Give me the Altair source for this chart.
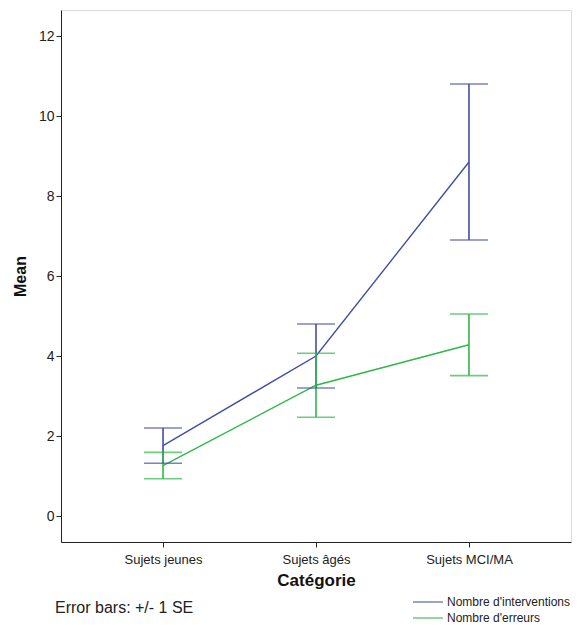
import altair as alt
import pandas as pd

categories = ["Sujets jeunes", "Sujets âgés", "Sujets MCI/MA"]
series = ["Nombre d'interventions", "Nombre d'erreurs"]
interv_mean = [1.76, 4.00, 8.85]
interv_se = [0.44, 0.80, 1.95]
err_mean = [1.26, 3.27, 4.28]
err_se = [0.33, 0.80, 0.77]
colors = ["#414FA3", "#2EB848"]

rows = []
for i, c in enumerate(categories):
    rows.append({"cat": c, "serie": series[0], "mean": interv_mean[i],
                 "lo": interv_mean[i] - interv_se[i], "hi": interv_mean[i] + interv_se[i]})
    rows.append({"cat": c, "serie": series[1], "mean": err_mean[i],
                 "lo": err_mean[i] - err_se[i], "hi": err_mean[i] + err_se[i]})
df = pd.DataFrame(rows)

FONT = "Liberation Sans"

x = alt.X("cat:N", sort=categories,
          scale=alt.Scale(type="point", padding=0.667),
          axis=alt.Axis(title="Catégorie", labelAngle=0, labelFontSize=13,
                        labelColor="#222", titleFontSize=17, titleFontWeight="bold",
                        titleColor="#111", tickSize=5, tickColor="#222",
                        domainColor="#222", labelPadding=6, titlePadding=6,
                        labelFont=FONT, titleFont=FONT, grid=False))
y = alt.Y("mean:Q", scale=alt.Scale(domain=[-0.65, 12.65], nice=False, zero=False),
          axis=alt.Axis(title="Mean", values=[0, 2, 4, 6, 8, 10, 12], labelFontSize=14,
                        labelColor="#222", titleFontSize=16, titleFontWeight="bold",
                        titleColor="#111", tickSize=5, tickColor="#222",
                        domainColor="#222", labelPadding=2, titlePadding=10,
                        labelFont=FONT, titleFont=FONT, grid=False))
color = alt.Color("serie:N", scale=alt.Scale(domain=series, range=colors),
                  legend=alt.Legend(title=None, orient="none", legendX=361, legendY=586,
                                    padding=0,
                                    symbolType="M-3,0H3", symbolSize=100,
                                    symbolStrokeWidth=1.5, labelFontSize=12,
                                    labelFont=FONT, labelColor="#222",
                                    rowPadding=4, labelOffset=13))

base = alt.Chart(df)
lines = base.mark_line(strokeWidth=1.4).encode(x=x, y=y, color=color, detail="serie:N")
rules = base.mark_rule(strokeWidth=1.6).encode(
    x=alt.X("cat:N", sort=categories), y="lo:Q", y2="hi:Q", color=color)
caps_lo = base.mark_tick(orient="horizontal", size=38, thickness=1.6).encode(
    x=alt.X("cat:N", sort=categories), y="lo:Q", color=color)
caps_hi = base.mark_tick(orient="horizontal", size=38, thickness=1.6).encode(
    x=alt.X("cat:N", sort=categories), y="hi:Q", color=color)

note = alt.Chart(pd.DataFrame({"t": ["Error bars: +/- 1 SE"]})).mark_text(
    align="left", baseline="middle", fontSize=16, font=FONT, color="#222"
).encode(text="t:N", x=alt.value(-6), y=alt.value(598))

chart = alt.layer(lines, rules, caps_lo, caps_hi, note).properties(
    width=510, height=532,
    autosize=alt.AutoSizeParams(type="none"),
    padding={"left": 53, "top": 2, "right": 4, "bottom": 82},
).configure_view(stroke="#444", strokeWidth=1.2).configure(background="white")

chart.save("out.html", embed_options={"renderer": "svg", "actions": False})
